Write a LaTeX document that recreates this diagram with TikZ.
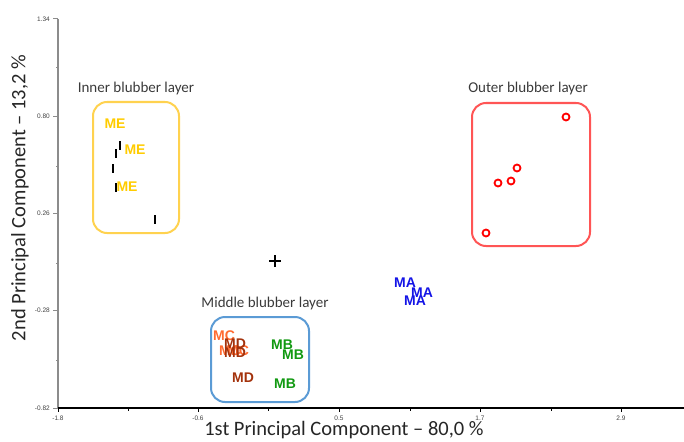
\documentclass[tikz,border=0pt]{standalone}
\usepackage{fontspec}
\setmainfont{Carlito}
\newfontfamily\arialfont{Liberation Sans}
\usetikzlibrary{positioning}
\definecolor{innercol}{HTML}{FFD24F}
\definecolor{middlecol}{HTML}{5B9BD5}
\definecolor{outercol}{HTML}{FF5555}
\definecolor{mecol}{HTML}{FFCC00}
\definecolor{macol}{HTML}{1414E6}
\definecolor{mbcol}{HTML}{119911}
\definecolor{mccol}{HTML}{FF6A30}
\definecolor{mdcol}{HTML}{A3320C}
\definecolor{labelgray}{HTML}{3A3A3A}
\definecolor{tickgray}{HTML}{404040}
\definecolor{axisgray}{HTML}{8C8C8C}

\begin{document}
\begin{tikzpicture}[x=1pt,y=-1pt,
    layerbox/.style={draw=#1,line width=2pt,rounded corners=14pt,inner sep=0pt},
    layername/.style={text=labelgray,font=\fontsize{15}{18}\selectfont,inner sep=0pt},
    sample/.style={text=#1,font=\arialfont\bfseries\fontsize{14}{15}\selectfont,inner sep=0pt},
    outerpt/.style={circle,draw=red,line width=1.8pt,minimum size=7pt,inner sep=0pt},
    innerpt/.style={fill=black,minimum width=2.5pt,minimum height=9pt,inner sep=0pt},
    ticklab/.style={text=tickgray,font=\arialfont\fontsize{6.5}{7}\selectfont,inner sep=0pt},
    axistitle/.style={text=black!85,font=\fontsize{20.5}{24}\selectfont,inner sep=0pt}]
    \useasboundingbox (0,0) rectangle (684,441);

    % axes
    \coordinate (origin) at (58,408);
    \coordinate (ytop) at (58,19);
    \coordinate (xend) at (684,408);
    \draw[axisgray,line width=1.8pt] (origin) -- (ytop);
    \draw[black,line width=1.5pt] (origin) -- (xend);
    \foreach \yy/\lab in {19/1.34,116/0.80,213/0.26,310/-0.28,408/-0.82}{
        \draw[axisgray,line width=1pt] (53,\yy) -- (58,\yy);
        \node[ticklab,anchor=east] (ylab\yy) at (50,\yy) {\lab};
    }
    \foreach \yy in {68,166,263,360}
        \draw[axisgray,line width=1pt] (56,\yy) -- (58,\yy);
    \foreach \xx/\lab in {58/-1.8,198/-0.6,339/0.5,480/1.7,621/2.9}{
        \draw[black,line width=1pt] (\xx,408) -- (\xx,412);
        \node[ticklab] (xlab\xx) at (\xx,418) {\lab};
    }
    \foreach \xx in {128,268,410,551}
        \draw[black,line width=0.8pt] (\xx,408) -- (\xx,410.5);
    \node[axistitle] (xtitle) at (344,430.5) {1st Principal Component – 80,0 \%};
    \node[axistitle,rotate=90] (ytitle) at (20,198) {2nd Principal Component – 13,2 \%};

    % centroid
    \coordinate (centroid) at (275,261);
    \draw[black,line width=1.3pt] ([xshift=-6pt]centroid) -- ([xshift=6pt]centroid)
        ([yshift=-6pt]centroid) -- ([yshift=6pt]centroid);

    % inner blubber layer
    \node[layerbox=innercol,minimum width=86pt,minimum height=131pt] (innerbox) at (136,167.5) {};
    \node[layername] (innername) at (136,89) {Inner blubber layer};
    \node[sample=mecol] (me1) at (115,124) {ME};
    \node[sample=mecol] (me2) at (135,150) {ME};
    \node[sample=mecol] (me3) at (127,187) {ME};
    \node[innerpt] (i1) at (120,145) {};
    \node[innerpt] (i2) at (116,153) {};
    \node[innerpt] (i3) at (113,168) {};
    \node[innerpt] (i4) at (116,187) {};
    \node[innerpt] (i5) at (155,219) {};

    % middle blubber layer
    \node[layerbox=middlecol,minimum width=98pt,minimum height=85pt] (middlebox) at (260,359.5) {};
    \node[layername] (middlename) at (265,303) {Middle blubber layer};
    \node[sample=mccol] (mc1) at (224,336) {MC};
    \node[sample=mccol] (mc2) at (230,351) {MC};
    \node[sample=mccol] (mc3) at (238,351) {MC};
    \node[sample=mdcol] (md1) at (235,344) {MD};
    \node[sample=mdcol] (md2) at (235,353) {MD};
    \node[sample=mdcol] (md3) at (243,378) {MD};
    \node[sample=mbcol] (mb1) at (282,345) {MB};
    \node[sample=mbcol] (mb2) at (293,355) {MB};
    \node[sample=mbcol] (mb3) at (285,384) {MB};

    % MA samples
    \node[sample=macol] (ma1) at (405,283) {MA};
    \node[sample=macol] (ma2) at (422,293) {MA};
    \node[sample=macol] (ma3) at (415,301) {MA};

    % outer blubber layer
    \node[layerbox=outercol,minimum width=118pt,minimum height=143pt] (outerbox) at (531,174.5) {};
    \node[layername] (outername) at (528,89) {Outer blubber layer};
    \node[outerpt] (o1) at (566,117) {};
    \node[outerpt] (o2) at (517,168) {};
    \node[outerpt] (o3) at (511,181) {};
    \node[outerpt] (o4) at (498,183) {};
    \node[outerpt] (o5) at (486,233) {};
\end{tikzpicture}
\end{document}
